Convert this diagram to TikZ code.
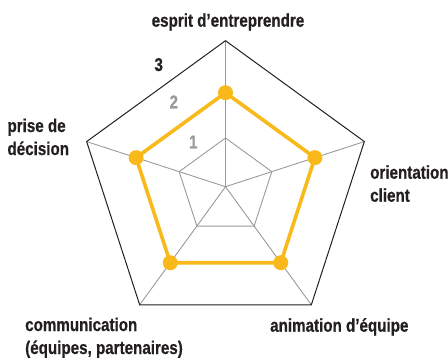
\documentclass[tikz,border=0pt]{standalone}
\usepackage{fontspec}
\usetikzlibrary{calc}
\newfontfamily\labfont{Liberation Sans Bold}[FakeStretch=0.82, FakeBold=0.6]
\definecolor{gold}{HTML}{F9B91A}
\definecolor{txt}{HTML}{231F20}
\definecolor{grid}{HTML}{9A9A9A}
\tikzset{
  lbl/.style={font=\labfont\fontsize{18.5}{23}\selectfont, text=txt, inner sep=0pt, align=left},
  lvl/.style={font=\labfont\fontsize{18.5}{20}\selectfont, inner sep=0pt, anchor=base},
  dot/.style={circle, fill=gold, minimum size=15pt, inner sep=0pt}
}
\begin{document}
\begin{tikzpicture}[x=1pt,y=1pt]
\useasboundingbox (0,0) rectangle (448,360);
\coordinate (C) at (225.5,173.3);
% vertices
\foreach \i/\a in {1/90,2/18,3/-54,4/-126,5/162}{
  \coordinate (O\i) at ($(C)+(\a:146)$);
  \coordinate (I\i) at ($(C)+(\a:48.7)$);
  \coordinate (D\i) at ($(C)+(\a:94)$);
}
% spokes
\foreach \i in {1,...,5}{ \draw[grid, line width=0.9pt] (C) -- (O\i); }
% level 1
\draw[grid, line width=0.9pt, line join=miter] (I1) -- (I2) -- (I3) -- (I4) -- (I5) -- cycle;
% outer
\draw[txt, line width=1pt, line join=miter] (O1) -- (O2) -- (O3) -- (O4) -- (O5) -- cycle;
% data
\draw[gold, line width=3.6pt, line join=round] (D1) -- (D2) -- (D3) -- (D4) -- (D5) -- cycle;
\foreach \i in {1,...,5}{ \node[dot] (P\i) at (D\i) {}; }
% level numbers
\node[lvl, text=txt] (n3) at (158.7,289) {3};
\node[lvl, text=grid] (n2) at (173.8,251.7) {2};
\node[lvl, text=grid] (n1) at (193.3,211.7) {1};
% labels
\node[lbl, anchor=base] (l1) at (228,333.3) {esprit d’entreprendre};
\node[lbl, anchor=base west] (l2) at (370,158.3) {orientation\\client};
\node[lbl, anchor=base west] (l5) at (7.3,205) {prise de\\décision};
\node[lbl, anchor=base west] (l4) at (25,6) {communication\\(équipes, partenaires)};
\node[lbl, anchor=base west] (l3) at (270,28.3) {animation d’équipe};
\end{tikzpicture}
\end{document}
